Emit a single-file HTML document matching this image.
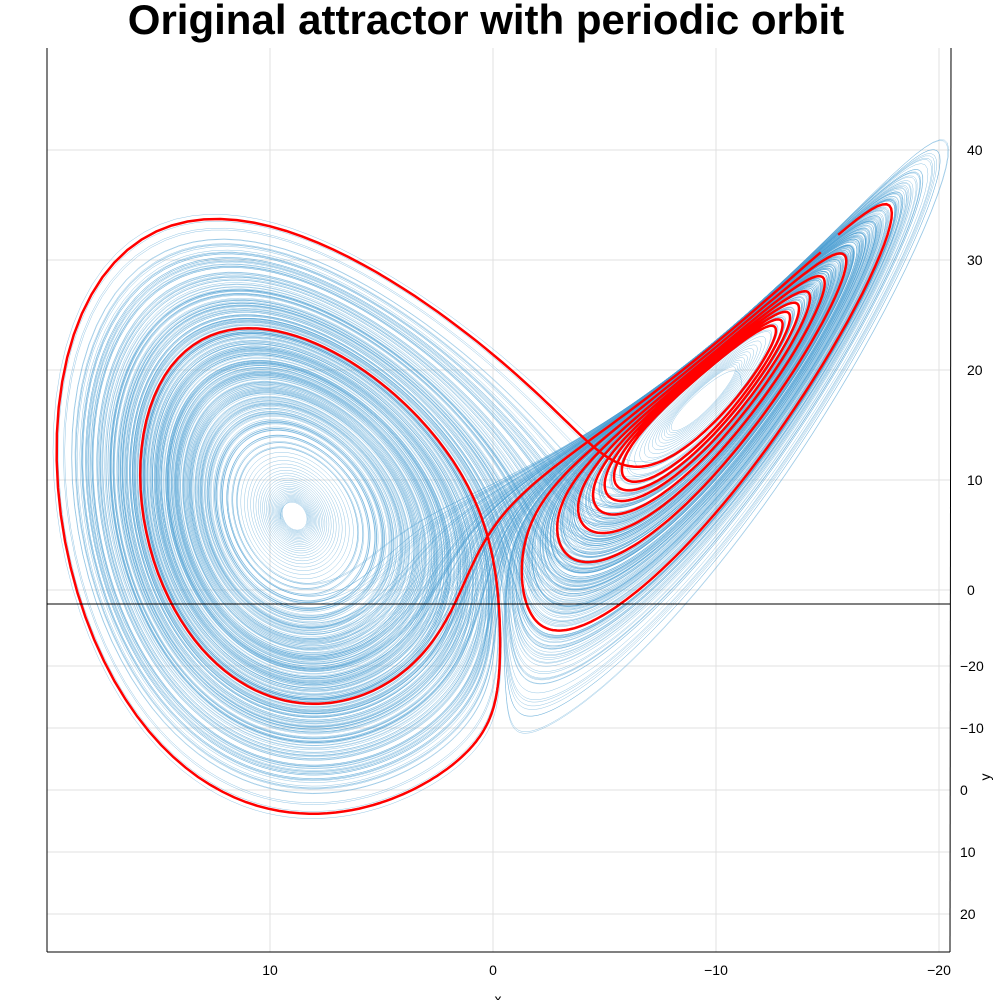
<!DOCTYPE html>
<html><head><meta charset="utf-8"><style>
body{margin:0;background:#fff;}
svg text{font-family:"Liberation Sans",sans-serif;}
</style></head><body>
<svg id="chart" width="1000" height="1000">
<text x="486" y="34" font-size="42" font-weight="bold" text-anchor="middle">Original attractor with periodic orbit</text>
<g id="grid"></g>
<g id="ticks"></g>
<g id="plot"></g>
<line x1="47" y1="48" x2="47" y2="952" stroke="#000"/>
<line x1="47" y1="952" x2="950" y2="952" stroke="#000"/>
<line x1="951" y1="48" x2="950" y2="952" stroke="#000"/>
<line x1="47" y1="604" x2="950" y2="604" stroke="#000"/>
<text x="498" y="1004" font-size="14" text-anchor="middle">x</text>
<text x="990" y="777" font-size="14" text-anchor="middle" transform="rotate(-90 990 777)">y</text>
</svg>
<script>
const xTicks=[10,0,-10,-20];
const zTicks=[40,30,20,10,0];
const yTicks=[-20,-10,0,10,20];
const sigma=10, rho=28, beta=8/3;
const start=[1,1,1];
const ns="http://www.w3.org/2000/svg";
function X(x){return 493-22.3*x;}
function ZP(z){return 590-11*(z);}
function YP(y){return 790+6.2*y;}
const grid=document.getElementById('grid'), ticks=document.getElementById('ticks');
function mk(tag,attrs,parent){const e=document.createElementNS(ns,tag);for(const k in attrs)e.setAttribute(k,attrs[k]);parent.appendChild(e);return e;}
xTicks.forEach(v=>{
  const l=mk('line',{x1:X(v),x2:X(v),y1:48,y2:952,stroke:'#e0e0e0'},grid);
  
  
  const t=mk('text',{x:X(v),y:975,'font-size':14,'text-anchor':'middle'},ticks);
  t.textContent=v<0?'\u2212'+(-v):v;
  
  
});
zTicks.forEach(v=>{
  const l=mk('line',{x1:47,x2:950,y1:ZP(v),y2:ZP(v),stroke:'#e0e0e0'},grid);
  
  
  const t=mk('text',{x:967,y:ZP(v)+5,'font-size':14},ticks);
  t.textContent=v;
  
  
});
yTicks.forEach(v=>{
  const l=mk('line',{x1:47,x2:950,y1:YP(v),y2:YP(v),stroke:'#e0e0e0'},grid);
  
  
  const t=mk('text',{x:960,y:YP(v)+5,'font-size':14},ticks);
  t.textContent=v<0?'\u2212'+(-v):v;
  
  
});
function f(s){return [sigma*(s[1]-s[0]), s[0]*(rho-s[2])-s[1], s[0]*s[1]-beta*s[2]];}
function rk(s,h){const a=f(s),b=f(s.map((v,i)=>v+h/2*a[i])),c=f(s.map((v,i)=>v+h/2*b[i])),d=f(s.map((v,i)=>v+h*c[i]));return s.map((v,i)=>v+h/6*(a[i]+2*b[i]+2*c[i]+d[i]));}
const fp=Math.sqrt(beta*(rho-1));
let s=start.slice();const h=0.005;
for(let i=0;i<2000;i++)s=rk(s,h);
const st=[];
for(let i=0;i<80000;i++){s=rk(s,h);st.push(s);}
const sub=[];for(let i=0;i<st.length;i+=25)sub.push(st[i]);
const supp=[[-1,0,-47],[0,1,808],[1,0,950],[0,-1,-150],[-1,-1,-375],[1,1,1300],[-1,1,560],[1,-1,798]];
function loss(P){
  const [p0,a1,a2,a3,q0,b1,b2,b3]=P;
  const mx=supp.map(()=>-1e9);
  for(const q of sub){const px=p0+a1*q[0]+a2*q[1]+a3*q[2],py=q0+b1*q[0]+b2*q[1]+b3*q[2];
    for(let k=0;k<supp.length;k++){const v=supp[k][0]*px+supp[k][1]*py;if(v>mx[k])mx[k]=v;}}
  let L=0;for(let k=0;k<supp.length;k++){const n=Math.hypot(supp[k][0],supp[k][1]);L+=((mx[k]-supp[k][2])/n)**2;}
  const c1=[p0+a1*fp+a2*fp+a3*27,q0+b1*fp+b2*fp+b3*27],c2=[p0-a1*fp-a2*fp+a3*27,q0-b1*fp-b2*fp+b3*27];
  L+=4*((c1[0]-300)**2+(c1[1]-520)**2+(c2[0]-690)**2+(c2[1]-405)**2);
  return L;
}
let bl=1e18,bP=null;
for(let al=-30;al<=30;al+=2)for(let be=-20;be<=20;be+=2){const Q=[495,-11.5+al/2,-11.5-al/2,0,773,3.5+be/2,3.5-be/2,-11.5];const L=loss(Q);if(L<bl){bl=L;bP=Q;}}
let P=bP.slice();let cur=bl;
let steps=[10,1,1,0.5,10,1,1,0.5];
for(let it=0;it<60;it++){
  for(let k=0;k<8;k++){
    for(const sgn of [1,-1]){const Q=P.slice();Q[k]+=sgn*steps[k];const L=loss(Q);if(L<cur){cur=L;P=Q;}}
  }
  if(it%10==9)steps=steps.map(v=>v*0.5);
}
function proj(q){return [P[0]+P[1]*q[0]+P[2]*q[1]+P[3]*q[2], P[4]+P[5]*q[0]+P[6]*q[1]+P[7]*q[2]];}
function pathD(arr){let d='';arr.forEach((p,i)=>{d+=(i?'L':'M')+p[0].toFixed(1)+' '+p[1].toFixed(1);});return d;}
const pts=st.map(proj);
const plot=document.getElementById('plot');
const p1=mk('path',{d:pathD(pts),fill:'none',stroke:'#4a9ed2','stroke-width':0.4,'stroke-opacity':0.72},plot);


const spiralStarts=[[fp+0.6,fp+0.6,27],[-fp-1.6,-fp-1.6,27]];
const spiralLens=[4000,3000];
spiralStarts.forEach((s0,j)=>{
  let q=s0.slice();const arr=[];
  for(let i=0;i<spiralLens[j];i++){q=rk(q,h);arr.push(proj(q));}
  const sp=mk('path',{d:pathD(arr),fill:'none',stroke:'#4a9ed2','stroke-width':0.4,'stroke-opacity':0.72},plot);
  
  
});
const mxi=[];for(let i=1;i<st.length-1;i++){if(st[i][2]>st[i-1][2]&&st[i][2]>=st[i+1][2])mxi.push(i);}
const sg=i=>Math.sign(st[mxi[i]][0]);
const cands=[];
for(let k=1;k<mxi.length-3;k++){
  if(sg(k-1)<0&&sg(k)>0&&sg(k+1)>0&&sg(k+2)<0){
    let r=0;while(k+2+r<mxi.length&&sg(k+2+r)<0)r++;
    if(k+2+r<mxi.length)cands.push({r:r,z:st[mxi[k]][2],seg:[mxi[k-1],mxi[k+2+r-1]]});
  }
}
let seg=[6000,7800];
let good=cands.filter(c=>c.r>=6);if(!good.length)good=cands.filter(c=>c.r>=4);
if(good.length){good.sort((a,b)=>a.z-b.z);seg=good[0].seg;}
const p2=mk('path',{d:pathD(pts.slice(seg[0],seg[1])),fill:'none',stroke:'#ff0000','stroke-width':2.5},plot);


</script>
</body></html>
